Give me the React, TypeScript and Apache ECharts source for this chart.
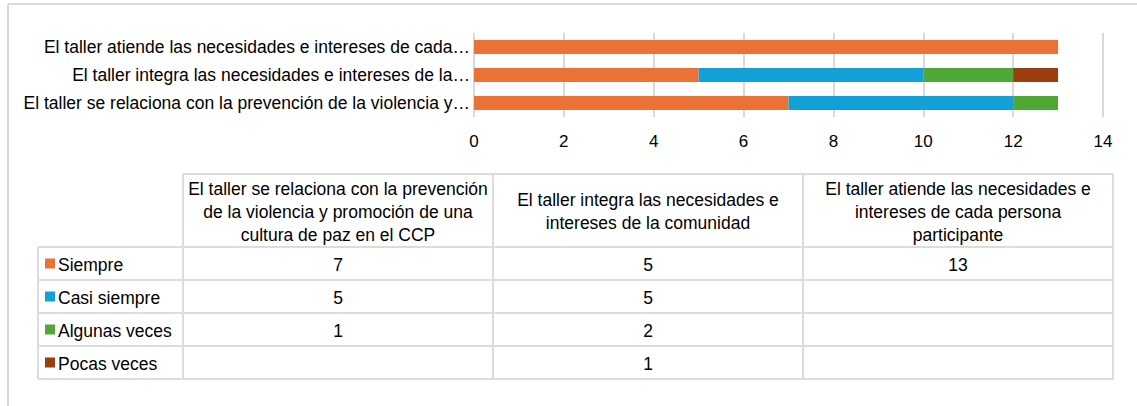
import React, { useEffect, useRef } from "react";
import * as echarts from "echarts";

// ---- data ----
const categories = [
  "El taller se relaciona con la prevención de la violencia y promoción de una cultura de paz en el CCP",
  "El taller integra las necesidades e intereses de la comunidad",
  "El taller atiende las necesidades e intereses de cada persona participante",
];
const axisLabels = [
  "El taller se relaciona con la prevención de la violencia y…",
  "El taller integra las necesidades e intereses de la…",
  "El taller atiende las necesidades e intereses de cada…",
];
const headerLabels = [
  "El taller se relaciona con la prevención\nde la violencia y promoción de una\ncultura de paz en el CCP",
  "El taller integra las necesidades e\nintereses de la comunidad",
  "El taller atiende las necesidades e\nintereses de cada persona\nparticipante",
];
const seriesNames = ["Siempre", "Casi siempre", "Algunas veces", "Pocas veces"];
const siempre = [7, 5, 13];
const casiSiempre = [5, 5, null];
const algunasVeces = [1, 2, null];
const pocasVeces = [null, 1, null];
const seriesValues = [siempre, casiSiempre, algunasVeces, pocasVeces];
const seriesColors = ["#EA7234", "#13A0D8", "#4EA833", "#9A3E10"];
const xMin = 0;
const xMax = 14;
const xStep = 2;

// ---- layout ----
const W = 1137;
const H = 406;
const FONT = "'Liberation Sans', Arial, sans-serif";
const LINE = "#dcdcdc";
const TXT = "#000";
const FS = 17.5;
const colX = [38, 183, 493, 803, 1113];
const rowY = [174, 247, 280, 313, 346, 379];

function buildTable(): any[] {
  const els: any[] = [];
  const lineStyle = { stroke: LINE, lineWidth: 2 };
  // frame
  els.push({ type: "line", shape: { x1: 8, y1: 4, x2: W + 5, y2: 4 }, style: { stroke: "#d9d9d9", lineWidth: 2 } });
  els.push({ type: "line", shape: { x1: 8, y1: 4, x2: 8, y2: H + 5 }, style: { stroke: "#d9d9d9", lineWidth: 2 } });
  // horizontal lines
  rowY.forEach((y, i) => {
    const x1 = i === 0 ? colX[1] : colX[0];
    els.push({ type: "line", shape: { x1, y1: y, x2: colX[4], y2: y }, style: lineStyle });
  });
  // vertical lines
  colX.forEach((x, i) => {
    const y1 = i === 0 ? rowY[1] : rowY[0];
    els.push({ type: "line", shape: { x1: x, y1, x2: x, y2: rowY[rowY.length - 1] }, style: lineStyle });
  });
  // header texts
  headerLabels.forEach((t, c) => {
    els.push({
      type: "text",
      style: {
        text: t,
        x: (colX[c + 1] + colX[c + 2]) / 2,
        y: (rowY[0] + rowY[1]) / 2 + 1,
        align: "center",
        verticalAlign: "middle",
        fontSize: FS,
        fontFamily: FONT,
        lineHeight: 23,
        fill: TXT,
      },
    });
  });
  // rows
  seriesNames.forEach((name, r) => {
    const cy = (rowY[r + 1] + rowY[r + 2]) / 2;
    els.push({ type: "rect", shape: { x: 45, y: cy - 5, width: 10, height: 10 }, style: { fill: seriesColors[r] } });
    els.push({
      type: "text",
      style: { text: name, x: 58, y: cy + 1, align: "left", verticalAlign: "middle", fontSize: FS, fontFamily: FONT, fill: TXT },
    });
    seriesValues[r].forEach((v, c) => {
      if (v === null || v === undefined) return;
      els.push({
        type: "text",
        style: {
          text: String(v),
          x: (colX[c + 1] + colX[c + 2]) / 2,
          y: cy + 1,
          align: "center",
          verticalAlign: "middle",
          fontSize: FS,
          fontFamily: FONT,
          fill: TXT,
        },
      });
    });
  });
  return els;
}

export default function App() {
  const ref = useRef<HTMLDivElement>(null);
  useEffect(() => {
    if (!ref.current) return;
    const chart = echarts.init(ref.current, null, { renderer: "svg" });
    chart.setOption({
      animation: false,
      backgroundColor: "#ffffff",
      grid: { left: 474, right: W - 1103, top: 33, height: 84, containLabel: false },
      xAxis: {
        type: "value",
        min: xMin,
        max: xMax,
        interval: xStep,
        axisLine: { show: false },
        axisTick: { show: false },
        splitLine: { show: true, lineStyle: { color: "#d9d9d9", width: 2 } },
        axisLabel: { fontSize: 17, fontFamily: FONT, color: TXT, margin: 16 },
      },
      yAxis: {
        type: "category",
        data: categories,
        axisLine: { show: false },
        axisTick: { show: false },
        splitLine: { show: false },
        axisLabel: {
          fontSize: FS,
          fontFamily: FONT,
          color: TXT,
          margin: 4,
          formatter: (_v: string, i: number) => axisLabels[i],
        },
      },
      series: seriesNames.map((name, i) => ({
        name,
        type: "bar",
        stack: "total",
        barWidth: "50%",
        data: seriesValues[i],
        itemStyle: { color: seriesColors[i] },
      })),
      graphic: buildTable(),
    });
    return () => chart.dispose();
  }, []);
  return (
    <div
      ref={ref}
      style={{ position: "absolute", left: 0, top: 0, width: W, height: H, background: "#fff" }}
    />
  );
}
